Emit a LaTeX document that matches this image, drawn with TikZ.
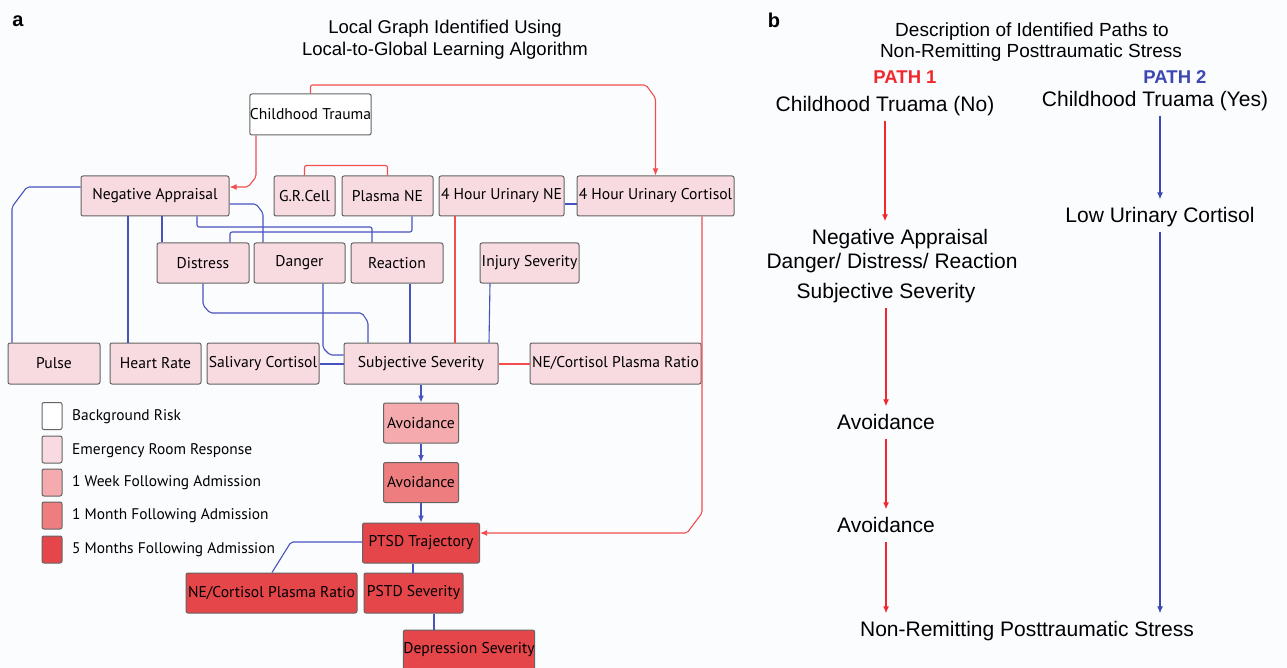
\documentclass[tikz,border=0pt]{standalone}
\usepackage{fontspec}
\setmainfont{Liberation Sans}
\newfontfamily\boxfont{PT Sans}
\usetikzlibrary{arrows.meta}

\definecolor{paper}{RGB}{251,252,254}
\definecolor{erpink}{RGB}{248,218,225}
\definecolor{weekpink}{RGB}{245,170,174}
\definecolor{monthred}{RGB}{238,125,128}
\definecolor{fivered}{RGB}{228,70,74}
\definecolor{boxline}{RGB}{100,100,100}
\definecolor{edgered}{RGB}{242,78,80}
\definecolor{edgeblue}{RGB}{72,82,190}
\definecolor{pathred}{RGB}{240,40,45}
\definecolor{pathblue}{RGB}{60,72,176}

\begin{document}
\begin{tikzpicture}
  [x=1pt, y=-1pt,
   box/.style={draw=boxline, line width=1pt, rounded corners=2pt, inner sep=0pt,
     minimum height=40pt, font=\boxfont\fontsize{15.6}{17}\selectfont},
   bg/.style={box, fill=white},
   er/.style={box, fill=erpink},
   wk/.style={box, fill=weekpink},
   mo/.style={box, fill=monthred},
   fm/.style={box, fill=fivered},
   key/.style={box, minimum width=20pt, minimum height=27pt},
   keytext/.style={anchor=west, inner sep=0pt, font=\boxfont\fontsize{15.4}{17}\selectfont},
   blu/.style={draw=edgeblue, line width=1.1pt, rounded corners=2pt},
   rd/.style={draw=edgered, line width=1.1pt, rounded corners=2pt},
   tip/.style={-{Latex[length=7pt,width=6pt]}},
   txt/.style={inner sep=0pt, text height=15pt, text depth=4pt, font=\fontsize{21}{24}\selectfont},
   step1/.style={draw=pathred, line width=1.2pt, tip, shorten <=5pt, shorten >=8pt},
   step2/.style={draw=pathblue, line width=1.2pt, tip, shorten <=5pt, shorten >=8pt}]

  \fill[paper] (0,0) rectangle (1287,668);
  \useasboundingbox (0,0) rectangle (1287,668);

  % panel a
  \node[font=\bfseries\fontsize{20}{24}\selectfont] (la) at (18,21) {a};
  \node[font=\fontsize{18.5}{22}\selectfont] (ta1) at (445,29) {Local Graph Identified Using};
  \node[font=\fontsize{18.5}{22}\selectfont] (ta2) at (445,51) {Local-to-Global Learning Algorithm};

  \node[bg, minimum width=121pt, minimum height=41pt] (ct) at (310.5,114.5) {Childhood Trauma};

  \node[er, minimum width=148pt] (na) at (155,196) {Negative Appraisal};
  \node[er, minimum width=61pt] (grc) at (304.5,196) {G.R.Cell};
  \node[er, minimum width=91pt] (pne) at (387.5,196) {Plasma NE};
  \node[er, minimum width=125pt] (une) at (501.5,196) {4 Hour Urinary NE};
  \node[er, minimum width=157pt] (uc) at (655.5,196) {4 Hour Urinary Cortisol};

  \node[er, minimum width=92pt] (dis) at (203,263) {Distress};
  \node[er, minimum width=91pt] (dan) at (299.5,263) {Danger};
  \node[er, minimum width=92pt] (rea) at (397,263) {Reaction};
  \node[er, minimum width=99pt] (inj) at (529.5,263) {Injury Severity};

  \node[er, minimum width=92pt, minimum height=41pt] (pul) at (54,363.5) {Pulse};
  \node[er, minimum width=91pt, minimum height=41pt] (hr) at (155.5,363.5) {Heart Rate};
  \node[er, minimum width=112pt, minimum height=41pt] (sal) at (263,363.5) {Salivary Cortisol};
  \node[er, minimum width=154pt, minimum height=41pt] (ss) at (421,363.5) {Subjective Severity};
  \node[er, minimum width=171pt, minimum height=41pt] (ncr) at (615.5,363.5) {NE/Cortisol Plasma Ratio};

  \node[wk, minimum width=75pt] (av1) at (421,423) {Avoidance};
  \node[mo, minimum width=75pt] (av2) at (421,482.5) {Avoidance};
  \node[fm, minimum width=117pt] (ptsd) at (421,543) {PTSD Trajectory};
  \node[fm, minimum width=171pt] (ncrb) at (271.5,593) {NE/Cortisol Plasma Ratio};
  \node[fm, minimum width=99pt] (pss) at (413.5,593) {PSTD Severity};
  \node[fm, minimum width=130pt] (dep) at (469,650) {Depression Severity};

  % legend
  \node[key, fill=white] (k1) at (52,416) {};
  \node[key, fill=erpink] (k2) at (52,449.5) {};
  \node[key, fill=weekpink] (k3) at (52,482.5) {};
  \node[key, fill=monthred] (k4) at (52,515.5) {};
  \node[key, fill=fivered] (k5) at (52,549.5) {};
  \node[keytext] (kt1) at (72,417) {Background Risk};
  \node[keytext] (kt2) at (72,451) {Emergency Room Response};
  \node[keytext] (kt3) at (72,483) {1 Week Following Admission};
  \node[keytext] (kt4) at (72,516) {1 Month Following Admission};
  \node[keytext] (kt5) at (72,550) {5 Months Following Admission};

  % red edges
  \draw[rd, tip] (ct.south -| 256,0) -- (256,177) -- (248,187) -- (na.east |- 0,187);
  \draw[rd, tip] (ct.north) -- (310.5,85) -- (646,85) -- (655.5,98) -- (uc.north);
  \draw[rd] (grc.north) -- ++(0,-10) -| (pne.north);
  \draw[rd] (une.south -| 455,0) -- (ss.north -| 455,0);
  \draw[rd, line width=2pt] (ss) -- (ncr);
  \draw[rd, tip] (uc.south -| 702,0) -- (702,513) -- (687,533) -- (ptsd.east |- 0,533);

  % blue edges
  \draw[blu] (na.west |- 0,187) -- (27,187) -- (12,207) -- (pul.north -| 12,0);
  \draw[blu] (na.south -| 128,0) -- (hr.north -| 128,0);
  \draw[blu] (na.south -| 162,0) -- (dis.north -| 162,0);
  \draw[blu] (na.south -| 197,0) |- (372,227) -- (rea.north -| 372,0);
  \draw[blu] (na.east |- 0,204) -- (256,204) -- (263,213) -- (dan.north -| 263,0);
  \draw[blu] (pne.south -| 412,0) |- (230,232) -- (dis.north -| 230,0);
  \draw[blu, line width=1.6pt] (une.east |- 0,204) -- (uc.west |- 0,204);
  \draw[blu] (dis.south -| 203,0) -- (203,305) -- (210,313) -- (362,313) -- (368,322) -- (ss.north -| 368,0);
  \draw[blu] (dan.south -| 323,0) -- (323,348) -- (330,355) -- (ss.west |- 0,355);
  \draw[blu] (rea.south -| 410,0) -- (ss.north -| 410,0);
  \draw[blu] (inj.south -| 490,0) -- (ss.north -| 489,0);
  \draw[blu, line width=2pt] (sal) -- (ss);
  \draw[blu, tip] (ss) -- (av1);
  \draw[blu, tip] (av1) -- (av2);
  \draw[blu, tip] (av2) -- (ptsd);
  \draw[blu] (ptsd.west |- 0,542) -- (291,542) -- (ncrb.north -| 272,0);
  \draw[blu] (ptsd.south -| 413,0) -- (pss.north -| 413,0);
  \draw[blu] (pss.south -| 434,0) -- (dep.north -| 434,0);

  % panel b
  \node[font=\bfseries\fontsize{20}{24}\selectfont] (lb) at (774,20) {b};
  \node[font=\fontsize{19}{22}\selectfont] (tb1) at (1032,32) {Description of Identified Paths to};
  \node[font=\fontsize{19}{22}\selectfont] (tb2) at (1031,53) {Non-Remitting Posttraumatic Stress};
  \node[text=pathred, font=\bfseries\fontsize{18.5}{22}\selectfont] (p1) at (905,77) {PATH 1};
  \node[text=pathblue, font=\bfseries\fontsize{18.5}{22}\selectfont] (p2) at (1175,77) {PATH 2};

  \node[txt] (ctno) at (885,106) {Childhood Truama (No)};
  \node[txt] (ctyes) at (1155,101) {Childhood Truama (Yes)};
  \node[txt] (nap) at (900,239) {Negative Appraisal};
  \node[txt] (ddr) at (892,263) {Danger/ Distress/ Reaction};
  \node[txt] (ssv) at (886,293) {Subjective Severity};
  \node[txt] (avr1) at (886,424) {Avoidance};
  \node[txt] (avr2) at (886,527) {Avoidance};
  \node[txt] (luc) at (1160,217) {Low Urinary Cortisol};
  \node[txt] (nrps) at (1027,631) {Non-Remitting Posttraumatic Stress};

  \draw[step1] (ctno.south) -- (ctno.south |- nap.north);
  \draw[step1] (ssv) -- (avr1);
  \draw[step1] (avr1) -- (avr2);
  \draw[step1] (avr2.south) -- (avr2.south |- nrps.north);
  \draw[step2] (ctyes.south -| luc) -- (luc.north);
  \draw[step2] (luc.south) -- (luc.south |- nrps.north);
\end{tikzpicture}
\end{document}
